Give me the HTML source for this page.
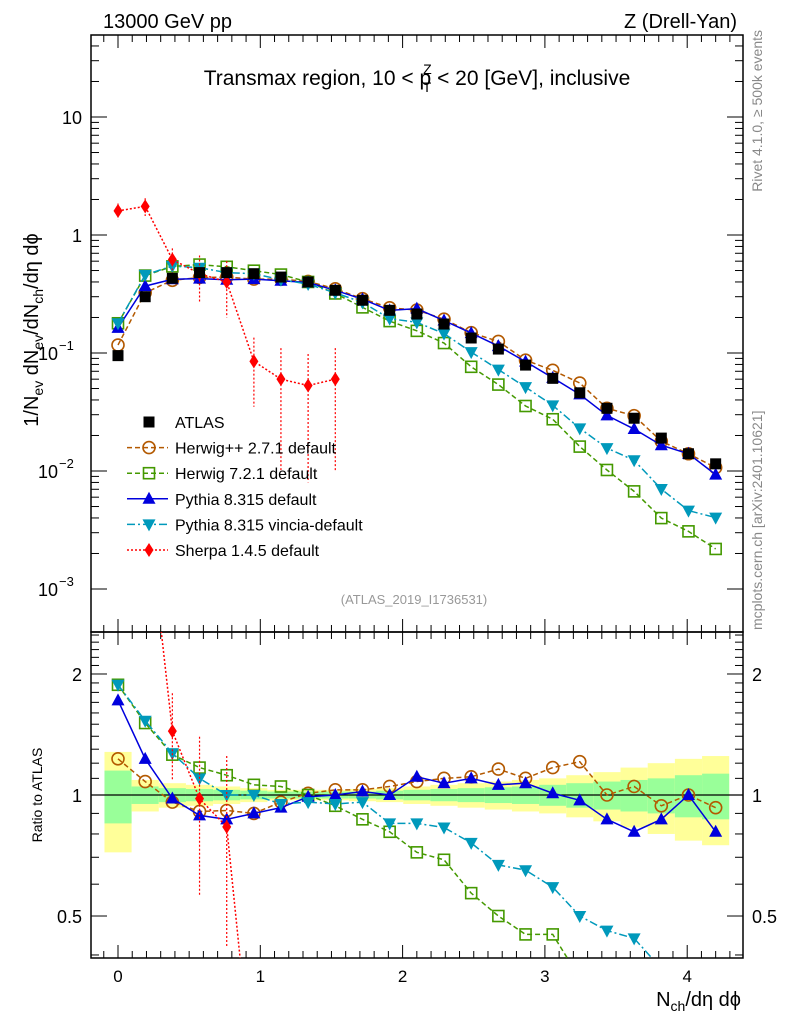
<!DOCTYPE html>
<html><head><meta charset="utf-8">
<style>
html,body{margin:0;padding:0;background:#fff;overflow:hidden;width:786px;height:1024px;}
svg{display:block;font-family:"Liberation Sans",sans-serif;}
</style></head>
<body>
<svg id="c" width="786" height="1024" viewBox="0 0 786 1024" xmlns="http://www.w3.org/2000/svg">
<text x="103" y="28" font-size="20">13000 GeV pp</text>
<text x="737" y="28" font-size="20" text-anchor="end">Z (Drell-Yan)</text>
<text x="417" y="85" font-size="21" text-anchor="middle">Transmax region, 10 &lt; p<tspan font-size="14" dx="-8" dy="-11">Z</tspan><tspan font-size="14" dx="-9" dy="18">T</tspan><tspan dy="-7"> &lt; 20 [GeV], inclusive</tspan></text>
<text x="414" y="604" font-size="13" fill="#999" text-anchor="middle">(ATLAS_2019_I1736531)</text>
<text transform="translate(762,30) rotate(-90)" font-size="14" fill="#888" text-anchor="end">Rivet 4.1.0, ≥ 500k events</text>
<text transform="translate(762,630) rotate(-90)" font-size="14" fill="#888">mcplots.cern.ch [arXiv:2401.10621]</text>
<text transform="translate(38,330) rotate(-90)" font-size="20" text-anchor="middle">1/N<tspan font-size="14" dy="5">ev</tspan><tspan dy="-5"> dN</tspan><tspan font-size="14" dy="5">ev</tspan><tspan dy="-5">/dN</tspan><tspan font-size="14" dy="5">ch</tspan><tspan dy="-5">/dη dϕ</tspan></text>
<text transform="translate(42,795) rotate(-90)" font-size="14" text-anchor="middle">Ratio to ATLAS</text>
<text x="741" y="1006" font-size="20" text-anchor="end">N<tspan font-size="14" dy="5">ch</tspan><tspan dy="-5">/dη dϕ</tspan></text>
<g id="g"></g>
</svg>
<script>
const xs = [0,0.191,0.382,0.573,0.764,0.955,1.145,1.336,1.527,1.718,1.909,2.1,2.291,2.482,2.673,2.864,3.055,3.245,3.436,3.627,3.818,4.009,4.2];
const atlas = [0.095,0.30,0.43,0.48,0.48,0.47,0.44,0.40,0.34,0.28,0.23,0.214,0.176,0.134,0.108,0.079,0.061,0.046,0.034,0.028,0.019,0.014,0.0115];
const herwigppRatio = [1.23,1.08,0.96,0.91,0.915,0.90,0.96,1.01,1.03,1.03,1.05,1.08,1.10,1.11,1.16,1.10,1.17,1.21,1.0,1.05,0.94,1.0,0.93];
const herwig7Ratio = [1.88,1.51,1.26,1.17,1.12,1.06,1.05,1.0,0.94,0.87,0.81,0.72,0.69,0.57,0.50,0.45,0.45,0.35,0.30,0.24,0.21,0.22,0.19];
const pythiaRatio = [1.72,1.23,0.98,0.89,0.87,0.90,0.93,0.99,1.0,1.02,1.0,1.11,1.07,1.10,1.06,1.07,1.01,0.97,0.87,0.81,0.87,1.0,0.81];
const vinciaRatio = [1.88,1.53,1.27,1.10,1.0,1.0,0.95,0.96,0.95,0.96,0.85,0.85,0.83,0.76,0.67,0.65,0.59,0.50,0.46,0.44,0.37,0.33,0.35];
const sherpaX = [0,0.191,0.382,0.573,0.764,0.955,1.145,1.336,1.527];
const sherpa = [1.6,1.75,0.62,0.47,0.40,0.085,0.06,0.053,0.06];
const sherpaErr = [0.25,0.3,0.15,0.2,0.2,0.05,0.05,0.045,0.05];
const yellowBand = [0.28,0.09,0.07,0.06,0.05,0.04,0.03,0.03,0.03,0.035,0.04,0.05,0.06,0.07,0.08,0.09,0.1,0.12,0.14,0.17,0.2,0.23,0.25];
const greenBand = [0.15,0.05,0.04,0.035,0.03,0.025,0.02,0.02,0.02,0.02,0.025,0.03,0.035,0.04,0.045,0.05,0.06,0.07,0.08,0.09,0.1,0.12,0.13];
const mainTicks = [10,1,0.1,0.01,0.001];
const mainTickLabels = ["10","1","10","10","10"];
const mainTickExp = ["","","−1","−2","−3"];
const ratioTicks = [2,1,0.5];
const ratioTickLabels = ["2","1","0.5"];
const xTicks = [0,1,2,3,4];

const L=91,R=743,T=35,MB=632,RB=958;
const X=v=>118+v*142.3;
const Y=v=>235-118*Math.log10(v);
const RY=v=>795-402*Math.log10(v);
const NS="http://www.w3.org/2000/svg";
const g=document.getElementById('g');
function mk(tag,at,parent){const e=document.createElementNS(NS,tag);for(const k in at)e.setAttribute(k,at[k]);(parent||g).appendChild(e);return e;}

const defs=mk('defs',{});
const c1=mk('clipPath',{id:'cm'},defs);mk('rect',{x:L,y:T,width:R-L,height:MB-T},c1);
const c2=mk('clipPath',{id:'cr'},defs);mk('rect',{x:L,y:MB,width:R-L,height:RB-MB},c2);

const bandG=mk('g',{'clip-path':'url(#cr)'});


xs.forEach((x,i)=>{
  const x0=i==0?x-0.095:(xs[i-1]+x)/2, x1=i==xs.length-1?x+0.095:(x+xs[i+1])/2;
  const y=mk('rect',{x:X(x0),y:RY(1+yellowBand[i]),width:X(x1)-X(x0),height:RY(1-yellowBand[i])-RY(1+yellowBand[i]),fill:'#ffff99'},bandG);
  
  
  const gr=mk('rect',{x:X(x0),y:RY(1+greenBand[i]),width:X(x1)-X(x0),height:RY(1-greenBand[i])-RY(1+greenBand[i]),fill:'#99ff99'},bandG);
  
  
});
mk('line',{x1:L,x2:R,y1:RY(1),y2:RY(1),stroke:'#000','stroke-width':1.2});

mk('rect',{x:L,y:T,width:R-L,height:MB-T,fill:'none',stroke:'#000','stroke-width':1.5});
mk('rect',{x:L,y:MB,width:R-L,height:RB-MB,fill:'none',stroke:'#000','stroke-width':1.5});

for(let v=-0.1;v<=4.45;v+=0.1){
  const vv=Math.round(v*10)/10; const maj=Math.abs(vv-Math.round(vv))<1e-6;
  const px=X(vv); if(px<L||px>R) continue;
  const l=maj?13:7;
  [[T,1],[MB,-1],[MB,1],[RB,-1]].forEach(([y0,d])=>mk('line',{x1:px,x2:px,y1:y0,y2:y0+d*l,stroke:'#000'}));
}
xTicks.forEach(v=>{const t=mk('text',{x:X(v),y:982,'font-size':17,'text-anchor':'middle'});t.textContent=v;

});

for(let d=-3;d<=1;d++){for(let m=1;m<10;m++){const v=m*Math.pow(10,d);const py=Y(v);if(py<T||py>MB)continue;const l=m==1?16:8;
mk('line',{x1:L,x2:L+l,y1:py,y2:py,stroke:'#000'});mk('line',{x1:R,x2:R-l,y1:py,y2:py,stroke:'#000'});}}
mainTicks.forEach((v,i)=>{
  const hasExp=!!mainTickExp[i];
  const t=mk('text',{x:hasExp?58:82,y:Y(v)+7,'font-size':18,'text-anchor':'end'});t.textContent=mainTickLabels[i];
  
  
  if(hasExp){const s=mk('text',{x:59,y:Y(v)-3,'font-size':13,'text-anchor':'start'});s.textContent=mainTickExp[i];
  
  }
});

[0.4,0.5,0.6,0.7,0.8,0.9,1,1.1,1.2,1.3,1.4,1.5,1.6,1.7,1.8,1.9,2,2.1,2.2,2.3,2.4,2.5].forEach(v=>{const py=RY(v);if(py<MB||py>RB)return;const l=(v==0.5||v==1||v==2)?16:8;
mk('line',{x1:L,x2:L+l,y1:py,y2:py,stroke:'#000'});mk('line',{x1:R,x2:R-l,y1:py,y2:py,stroke:'#000'});});
ratioTicks.forEach((v,i)=>{[[82,'end'],[752,'start']].forEach(([x,a])=>{const t=mk('text',{x:x,y:RY(v)+7,'font-size':18,'text-anchor':a});t.textContent=ratioTickLabels[i];

});});

function marker(type,x,y,color,parent){
  if(type=='sq')return mk('rect',{x:x-5.5,y:y-5.5,width:11,height:11,fill:'#000'},parent);
  if(type=='osq')return mk('rect',{x:x-5.5,y:y-5.5,width:11,height:11,fill:'none',stroke:color,'stroke-width':1.6},parent);
  if(type=='oc')return mk('circle',{cx:x,cy:y,r:6,fill:'none',stroke:color,'stroke-width':1.6},parent);
  if(type=='tu')return mk('polygon',{points:`${x},${y-7} ${x-6.5},${y+5} ${x+6.5},${y+5}`,fill:color},parent);
  if(type=='td')return mk('polygon',{points:`${x},${y+7} ${x-6.5},${y-5} ${x+6.5},${y-5}`,fill:color},parent);
  if(type=='di')return mk('polygon',{points:`${x},${y-7} ${x-4.5},${y} ${x},${y+7} ${x+4.5},${y}`,fill:color},parent);
}
const series=[
 {name:'herwigpp',ratio:herwigppRatio,color:'#b35900',m:'oc',dash:'5,3'},
 {name:'herwig7',ratio:herwig7Ratio,color:'#449900',m:'osq',dash:'5,3'},
 {name:'pythia',ratio:pythiaRatio,color:'#0000dd',m:'tu',dash:''},
 {name:'vincia',ratio:vinciaRatio,color:'#0099bb',m:'td',dash:'8,3,2,3'},
];
function drawSeries(vals,xv,color,m,dash,yf,clip,name,err){
  const sg=mk('g',{'clip-path':clip});
  
  
  const pts=vals.map((v,i)=>X(xv[i])+','+yf(v)).join(' ');
  if(m!='sq')mk('polyline',{points:pts,fill:'none',stroke:color,'stroke-width':1.5,'stroke-dasharray':dash},sg);
  vals.forEach((v,i)=>{
    if(err){mk('line',{x1:X(xv[i]),x2:X(xv[i]),y1:yf(v+err[i]),y2:yf(Math.max(v-err[i],v*0.05)),stroke:color,'stroke-dasharray':dash,'stroke-width':1.2},sg);}
    const p=marker(m,X(xv[i]),yf(v),color,sg);
    
    
  });
}
series.forEach(s=>{
  const abs=s.ratio.map((r,i)=>r*atlas[i]);
  drawSeries(abs,xs,s.color,s.m,s.dash,Y,'url(#cm)',s.name+'-main');
  drawSeries(s.ratio,xs,s.color,s.m,s.dash,RY,'url(#cr)',s.name+'-ratio');
});
drawSeries(sherpa,sherpaX,'#ff0000','di','2,2',Y,'url(#cm)','sherpa-main',sherpaErr);
const sherpaRatio=sherpa.map((v,i)=>v/atlas[i]);
const sherpaRatioErr=sherpaErr.map((v,i)=>v/atlas[i]);
drawSeries(sherpaRatio,sherpaX,'#ff0000','di','2,2',RY,'url(#cr)','sherpa-ratio',sherpaRatioErr);
drawSeries(atlas,xs,'#000','sq','',Y,'url(#cm)','atlas-data');

const leg=[['sq','#000','','ATLAS'],['oc','#b35900','5,3','Herwig++ 2.7.1 default'],['osq','#449900','5,3','Herwig 7.2.1 default'],['tu','#0000dd','','Pythia 8.315 default'],['td','#0099bb','8,3,2,3','Pythia 8.315 vincia-default'],['di','#ff0000','2,2','Sherpa 1.4.5 default']];
leg.forEach((e,i)=>{
  const y=422+i*25.6;
  const lg=mk('g',{});
  
  
  if(i>0)mk('line',{x1:127,x2:168,y1:y,y2:y,stroke:e[1],'stroke-width':1.5,'stroke-dasharray':e[2]},lg);
  marker(e[0],149,y,e[1],lg);
  const t=mk('text',{x:175,y:y+6,'font-size':16},lg);t.textContent=e[3];
});
</script>
</body></html>
